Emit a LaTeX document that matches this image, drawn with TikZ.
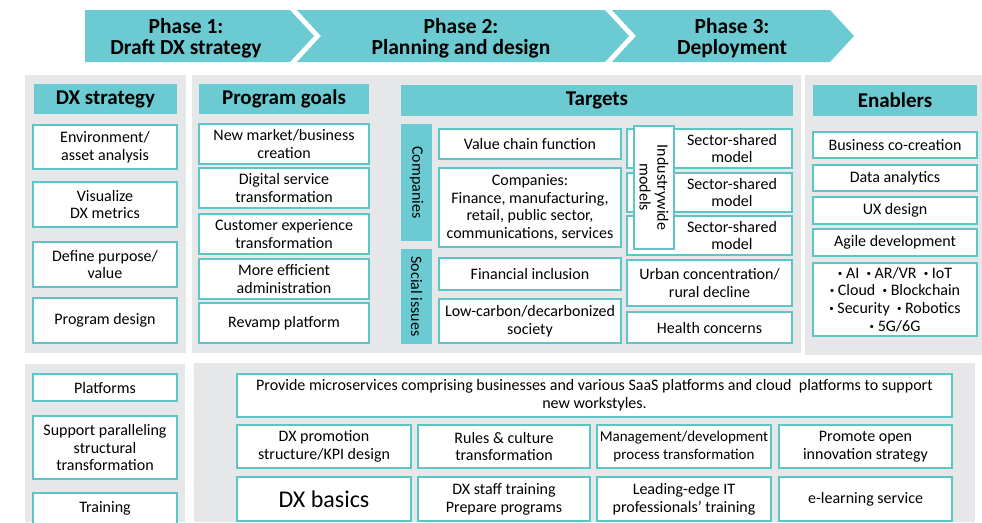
\documentclass[tikz,border=0pt]{standalone}
\usepackage{fontspec}
\setmainfont{Carlito}
\usetikzlibrary{calc}
\definecolor{tealhead}{HTML}{6CCBD2}
\definecolor{tealedge}{HTML}{5CC6C6}
\definecolor{panelgray}{HTML}{E6E7E8}
\newcommand{\dotsep}{\raisebox{2pt}{\fontsize{9}{9}\selectfont\textbullet}}
\tikzset{
  panel/.style={fill=panelgray},                       % gray backdrop
  phase/.style={fill=tealhead},                        % chevron
  phtext/.style={font=\bfseries\fontsize{21.5}{21}\selectfont,align=center,inner sep=0pt},
  head/.style={fill=tealhead,inner sep=0pt,font=\bfseries\fontsize{21}{22}\selectfont},
  item/.style={draw=tealedge,fill=white,line width=1.1pt,inner sep=0pt,align=center,font=\fontsize{16}{17.8}\selectfont},
  side/.style={fill=tealhead,inner sep=0pt,rotate=-90,font=\fontsize{16}{17.8}\selectfont},
  txt/.style={inner sep=0pt,align=center,font=\fontsize{16}{17.8}\selectfont},
}

\begin{document}
\begin{tikzpicture}[x=1pt,y=-1pt]
  \useasboundingbox (0,0) rectangle (982,522);
  % phases
  \fill[phase] (85,10) -- (290,10) -- (314,36) -- (290,62) -- (85,62) -- cycle;
  \fill[phase] (297,10) -- (605,10) -- (629,36) -- (605,62) -- (297,62) -- (321,36) -- cycle;
  \fill[phase] (612,10) -- (830,10) -- (854,36) -- (830,62) -- (612,62) -- (636,36) -- cycle;
  \node[phtext] (ph1) at (186,38) {Phase 1:\\Draft DX strategy};
  \node[phtext] (ph2) at (461,38) {Phase 2:\\Planning and design};
  \node[phtext] (ph3) at (732,38) {Phase 3:\\Deployment};

  % backdrops
  \fill[panel] (25,75) rectangle (186,353);
  \fill[panel] (192,75) rectangle (801,353);
  \fill[panel] (805,75) rectangle (982,355);
  \fill[panel] (25,364) rectangle (185,522);
  \fill[panel] (194,363) rectangle (975,522);

  % DX strategy
  \node[head,minimum width=143,minimum height=30] (hstrat) at (105.5,99) {DX strategy};
  \node[item,minimum width=144,minimum height=44] (env) at (105,147) {Environment/\\asset analysis};
  \node[item,minimum width=144,minimum height=45] (vis) at (105,204.5) {Visualize\\DX metrics};
  \node[item,minimum width=144,minimum height=45] (purp) at (105,264.5) {Define purpose/\\value};
  \node[item,minimum width=144,minimum height=45] (pdes) at (105,320.5) {Program design};

  % program goals
  \node[head,minimum width=170,minimum height=30] (hgoals) at (284,99) {Program goals};
  \node[item,minimum width=170,minimum height=40] (newmkt) at (284,144) {New market/business\\creation};
  \node[item,minimum width=170,minimum height=40] (digsrv) at (284,188) {Digital service\\transformation};
  \node[item,minimum width=170,minimum height=40] (custx) at (284,234) {Customer experience\\transformation};
  \node[item,minimum width=170,minimum height=40] (admin) at (284,279) {More efficient\\administration};
  \node[item,minimum width=170,minimum height=40] (revamp) at (284,323) {Revamp platform};

  % targets
  \node[head,minimum width=392,minimum height=31] (htgt) at (597,100) {Targets};
  \node[side,minimum width=117,minimum height=31] (comp) at (416.5,182.5) {Companies};
  \node[side,minimum width=95,minimum height=31] (social) at (416.5,296.5) {Social issues};
  \node[item,minimum width=182,minimum height=30] (vchain) at (530,144) {Value chain function};
  \node[item,minimum width=182,minimum height=79] (sectors) at (530,207.5)
    {Companies:\\Finance, manufacturing,\\retail, public sector,\\communications, services};
  \node[item,minimum width=182,minimum height=32] (fin) at (530,274) {Financial inclusion};
  \node[item,minimum width=182,minimum height=44] (lowc) at (530,321) {Low-carbon/decarbonized\\society};
  \foreach \y [count=\i] in {148.5,192.5,235.5} {
    \node[item,minimum width=165,minimum height=39] (shared\i) at (709.5,\y) {};
    \node[txt] (sharedt\i) at (732,\y) {Sector-shared\\model};
  }
  \node[item,rotate=-90,minimum width=123,minimum height=40] (indus) at (654,187.5) {Industrywide\\models};
  \node[item,minimum width=165,minimum height=46] (urban) at (709.5,283) {Urban concentration/\\rural decline};
  \node[item,minimum width=165,minimum height=31] (health) at (709.5,327.5) {Health concerns};

  % enablers
  \node[head,minimum width=164,minimum height=31] (henab) at (895,100.5) {Enablers};
  \node[item,minimum width=164,minimum height=26] (cocre) at (895,145) {Business co-creation};
  \node[item,minimum width=164,minimum height=26] (data) at (895,178) {Data analytics};
  \node[item,minimum width=164,minimum height=27] (ux) at (895,210.5) {UX design};
  \node[item,minimum width=164,minimum height=27] (agile) at (895,242.5) {Agile development};
  \node[item,minimum width=164,minimum height=73] (tech) at (895,299.5)
    {\dotsep\ AI~ \dotsep\ AR/VR~ \dotsep\ IoT\\\dotsep\ Cloud~ \dotsep\ Blockchain\\\dotsep\ Security~ \dotsep\ Robotics\\\dotsep\ 5G/6G};

  % bottom left
  \node[item,minimum width=144,minimum height=27] (plat) at (105,387.5) {Platforms};
  \node[item,minimum width=144,minimum height=63] (para) at (105,447.5) {Support paralleling\\structural\\transformation};
  \node[item,minimum width=144,minimum height=31] (train) at (105,508.5) {Training};

  % bottom right
  \node[item,minimum width=715,minimum height=43] (micro) at (594.5,395.5)
    {Provide microservices comprising businesses and various SaaS platforms and cloud~ platforms to support\\new workstyles.};
  \node[item,minimum width=174,minimum height=43] (kpi) at (324,446.5) {DX promotion\\structure/KPI design};
  \node[item,minimum width=172,minimum height=43] (rules) at (504,446.5) {Rules \& culture\\transformation};
  \node[item,minimum width=174,minimum height=43,font=\fontsize{15}{17.5}\selectfont] (mgmt) at (684,446.5) {Management/development\\process transformation};
  \node[item,minimum width=173,minimum height=43] (openin) at (865.5,446.5) {Promote open\\innovation strategy};
  \node[item,minimum width=174,minimum height=44,font=\fontsize{24}{26}\selectfont] (basics) at (324,499) {DX basics};
  \node[item,minimum width=172,minimum height=44] (staff) at (504,499) {DX staff training\\Prepare programs};
  \node[item,minimum width=174,minimum height=44] (lead) at (684,499) {Leading-edge IT\\professionals’ training};
  \node[item,minimum width=173,minimum height=44] (elearn) at (865.5,499) {e-learning service};
\end{tikzpicture}
\end{document}
